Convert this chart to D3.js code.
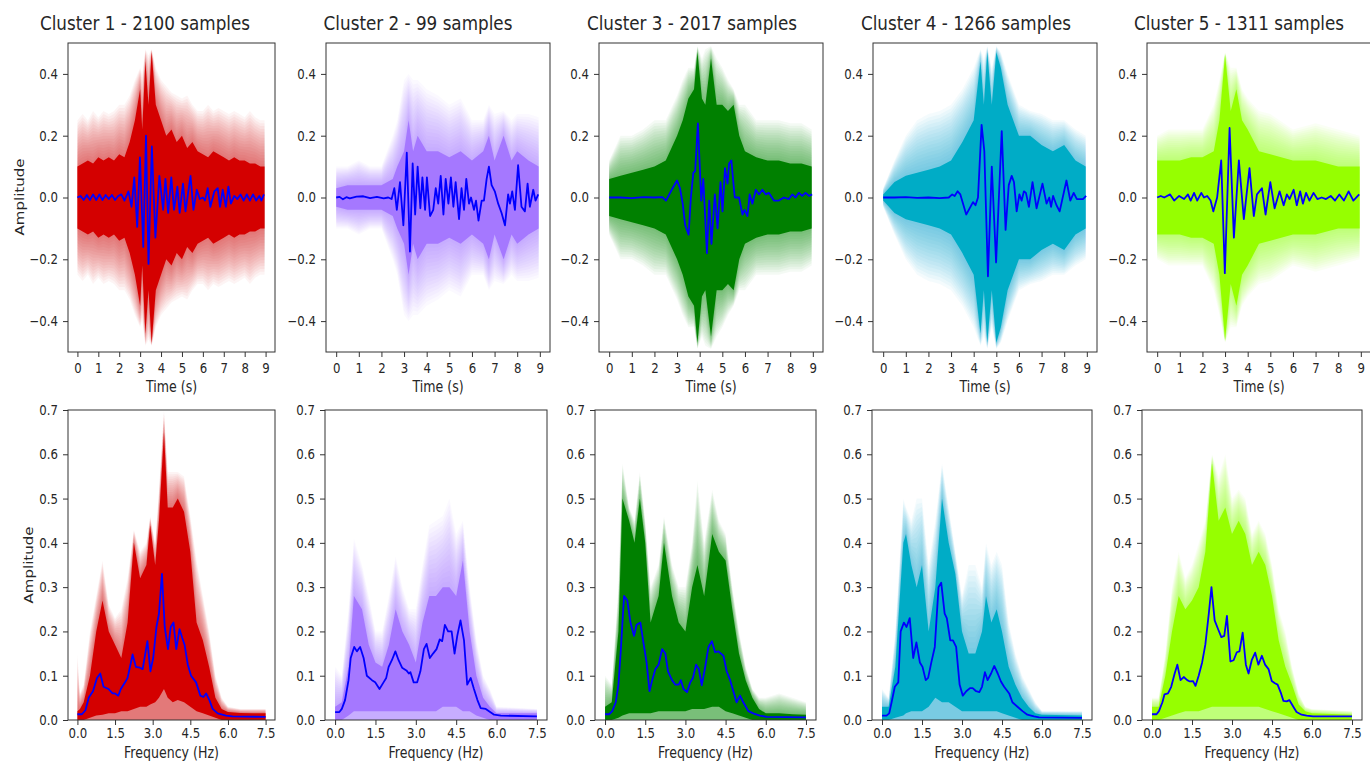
<!DOCTYPE html>
<html lang="en">
<head>
<meta charset="UTF-8">
<title>Clusters</title>
<script src="https://cdn.jsdelivr.net/npm/d3@7"></script>
<style>
  body { margin: 0; background: #fff; }
  svg text { font-family: "DejaVu Sans", sans-serif; fill: #262626; }
</style>
</head>
<body>
<svg width="1370" height="764"></svg>
<script>
// ---- data ----
const clusterIds = [1, 2, 3, 4, 5];
const sampleCounts = [2100, 99, 2017, 1266, 1311];

const timeTicks = [0, 1, 2, 3, 4, 5, 6, 7, 8, 9];
const freqTicks = [0, 1.5, 3, 4.5, 6, 7.5];
const ampTicksTop = [-0.4, -0.2, 0, 0.2, 0.4];
const ampTicksBottom = [0, 0.1, 0.2, 0.3, 0.4, 0.5, 0.6, 0.7];

// mean waveform, [time s, amplitude]
const c1TimeMean = [[0,0],[0.15,0.005],[0.3,-0.008],[0.45,0.008],[0.6,-0.008],[0.75,0.01],[0.9,-0.008],[1.05,0.01],[1.2,-0.008],[1.35,0.008],[1.5,-0.005],[1.65,0.008],[1.8,-0.008],[1.95,0.005],[2.1,0.01],[2.25,-0.01],[2.44,0.02],[2.59,-0.03],[2.72,0.065],[2.86,-0.095],[2.99,0.13],[3.15,-0.16],[3.28,0.2],[3.4,-0.215],[3.56,0.165],[3.73,-0.13],[3.92,0.07],[4.1,-0.04],[4.21,0.06],[4.34,-0.05],[4.49,0.065],[4.62,-0.04],[4.78,0.035],[4.89,-0.05],[5.05,0.045],[5.17,-0.045],[5.41,0.07],[5.55,-0.04],[5.71,0.025],[5.85,-0.005],[6.0,0],[6.1,-0.01],[6.23,0.03],[6.36,-0.03],[6.55,0.02],[6.71,0.03],[6.82,-0.03],[6.95,0.025],[7.1,-0.03],[7.22,0.035],[7.34,-0.02],[7.5,0.005],[7.65,-0.005],[7.8,0.01],[7.95,-0.01],[8.1,0.01],[8.25,-0.01],[8.4,0.01],[8.55,-0.01],[8.7,0.005],[8.8,-0.01],[8.92,0.01]];
const c2TimeMean = [[0,0],[0.15,0.002],[0.3,-0.006],[0.45,0.001],[0.6,-0.003],[0.9,0.003],[1.2,0.004],[1.5,-0.002],[1.8,0.002],[2.1,-0.003],[2.3,0],[2.45,-0.005],[2.57,0.03],[2.68,-0.04],[2.82,0.05],[2.97,-0.09],[3.12,0.145],[3.26,-0.175],[3.38,0.11],[3.49,-0.055],[3.6,0.1],[3.72,-0.035],[3.81,0.065],[3.93,-0.04],[4.01,0.065],[4.15,-0.06],[4.29,-0.04],[4.4,0.03],[4.51,-0.02],[4.62,0.07],[4.74,-0.055],[4.84,0.06],[4.96,-0.02],[5.07,0.065],[5.18,-0.03],[5.28,0.05],[5.43,-0.07],[5.54,0.03],[5.65,-0.04],[5.75,0.06],[5.87,-0.02],[5.96,0],[6.09,-0.04],[6.18,-0.01],[6.29,-0.075],[6.43,-0.01],[6.53,-0.01],[6.65,0.06],[6.75,0.1],[6.87,0.04],[7.01,0.02],[7.16,-0.02],[7.31,-0.05],[7.46,-0.09],[7.6,0.01],[7.68,-0.02],[7.78,0.02],[7.9,-0.04],[8.04,0.105],[8.19,-0.03],[8.34,-0.045],[8.46,0.045],[8.56,-0.03],[8.71,0.025],[8.81,-0.01],[8.93,0.01]];
const c3TimeMean = [[0,0],[0.5,0],[1,-0.002],[1.5,0.001],[2,0],[2.35,0.001],[2.51,-0.01],[2.8,0.03],[3.0,0.055],[3.13,0.03],[3.25,-0.02],[3.36,-0.09],[3.51,-0.12],[3.61,0],[3.72,0.08],[3.8,0.085],[3.92,0.24],[4.07,-0.01],[4.16,0.06],[4.32,-0.18],[4.42,-0.01],[4.52,-0.15],[4.67,0.01],[4.79,-0.1],[4.92,0.05],[5.01,-0.045],[5.12,0.095],[5.23,0.045],[5.3,0.11],[5.4,0.12],[5.55,0],[5.74,0],[5.89,-0.055],[5.99,-0.04],[6.11,-0.06],[6.21,0.01],[6.33,-0.02],[6.48,0.025],[6.62,0.01],[6.77,0.025],[6.92,0.01],[7.06,0.015],[7.28,-0.01],[7.5,-0.01],[7.72,0],[7.94,-0.005],[8.09,0.01],[8.24,0],[8.38,0.015],[8.53,0.005],[8.68,0.015],[8.83,0.005],[8.97,0.01]];
const c4TimeMean = [[0,0],[0.5,0],[1,0.001],[1.5,-0.001],[2,0],[2.5,-0.002],[2.9,0],[3.05,0.01],[3.16,0.005],[3.29,0.02],[3.41,0.01],[3.67,-0.055],[3.82,-0.035],[3.97,-0.015],[4.08,-0.025],[4.19,0],[4.35,0.235],[4.47,0.15],[4.63,-0.255],[4.8,0.1],[4.99,-0.21],[5.24,0.215],[5.41,-0.105],[5.55,0.04],[5.68,0.07],[5.78,0.05],[5.9,-0.045],[6.02,0.01],[6.12,-0.01],[6.22,0.02],[6.31,0.015],[6.44,-0.03],[6.6,0.05],[6.78,-0.035],[7.04,0.045],[7.22,-0.02],[7.34,0],[7.42,-0.03],[7.51,0.005],[7.66,-0.025],[7.8,-0.045],[8.1,0.055],[8.27,-0.01],[8.42,0.015],[8.56,-0.005],[8.83,-0.005],[8.97,0.005]];
const c5TimeMean = [[0,0],[0.16,0.005],[0.31,0],[0.57,0.01],[0.75,-0.01],[0.97,0.005],[1.19,-0.005],[1.36,0.01],[1.48,-0.01],[1.63,0.015],[1.77,-0.01],[1.95,0.015],[2.07,0],[2.21,0.005],[2.36,-0.01],[2.48,-0.045],[2.65,0],[2.83,0.12],[2.99,-0.245],[3.2,0.225],[3.39,-0.13],[3.61,0.12],[3.83,-0.07],[4.08,0.095],[4.27,-0.06],[4.41,0.01],[4.63,0.03],[4.79,-0.055],[5.0,0.05],[5.19,-0.035],[5.41,0.02],[5.59,-0.025],[5.73,0.01],[5.85,-0.005],[6.03,0.025],[6.17,-0.025],[6.32,0.02],[6.44,-0.02],[6.58,0.015],[6.73,-0.01],[6.91,0.015],[7.08,-0.005],[7.27,0],[7.46,-0.005],[7.67,0.005],[7.86,-0.01],[8.05,0.01],[8.25,-0.01],[8.46,0.02],[8.67,-0.01],[8.93,0.01]];

// spread of all waveforms, [time s, outer reach, dense reach] (about symmetric)
const c1TimeEnv = [[0,0.25,0.1],[0.25,0.27,0.11],[0.5,0.25,0.12],[0.75,0.28,0.11],[1.0,0.26,0.13],[1.25,0.28,0.12],[1.5,0.27,0.13],[1.75,0.28,0.12],[2.0,0.3,0.14],[2.25,0.3,0.13],[2.5,0.33,0.18],[2.75,0.38,0.25],[3.0,0.42,0.35],[3.1,0.4,0.22],[3.25,0.48,0.44],[3.4,0.46,0.3],[3.55,0.48,0.47],[3.75,0.42,0.3],[4.0,0.38,0.25],[4.25,0.36,0.2],[4.5,0.34,0.22],[4.75,0.33,0.18],[5.0,0.32,0.2],[5.25,0.33,0.16],[5.5,0.3,0.18],[5.75,0.28,0.15],[6.0,0.28,0.14],[6.25,0.3,0.13],[6.5,0.28,0.15],[6.75,0.29,0.14],[7.0,0.28,0.13],[7.25,0.27,0.12],[7.5,0.28,0.13],[7.75,0.27,0.12],[8.0,0.26,0.12],[8.25,0.28,0.11],[8.5,0.26,0.11],[8.75,0.25,0.1],[8.95,0.25,0.1]];
const c2TimeEnv = [[0,0.1,0.03],[0.5,0.1,0.04],[1,0.12,0.04],[1.5,0.1,0.04],[2,0.1,0.04],[2.5,0.2,0.06],[2.7,0.25,0.1],[3.0,0.38,0.15],[3.2,0.4,0.25],[3.4,0.38,0.15],[3.6,0.38,0.2],[4.0,0.35,0.15],[4.5,0.33,0.15],[5.0,0.3,0.13],[5.5,0.32,0.15],[6.0,0.25,0.12],[6.5,0.25,0.15],[6.75,0.3,0.2],[7.0,0.27,0.12],[7.4,0.28,0.2],[7.75,0.25,0.12],[8.0,0.27,0.15],[8.5,0.27,0.12],[8.95,0.26,0.1]];
const c3TimeEnv = [[0,0.12,0.06],[0.5,0.2,0.07],[1,0.2,0.08],[1.5,0.22,0.09],[2,0.25,0.1],[2.5,0.25,0.12],[3.0,0.33,0.2],[3.25,0.38,0.25],[3.5,0.42,0.32],[3.75,0.42,0.35],[3.9,0.49,0.47],[4.1,0.45,0.32],[4.25,0.48,0.3],[4.5,0.49,0.45],[4.75,0.45,0.3],[5.0,0.42,0.3],[5.25,0.38,0.28],[5.5,0.35,0.3],[5.75,0.3,0.2],[6.0,0.3,0.15],[6.5,0.25,0.13],[7.0,0.25,0.12],[7.5,0.25,0.12],[8.0,0.24,0.11],[8.5,0.24,0.11],[8.95,0.22,0.1]];
const c4TimeEnv = [[0,0.03,0.01],[0.5,0.12,0.05],[1,0.2,0.07],[1.5,0.25,0.08],[2,0.27,0.09],[2.5,0.28,0.1],[3,0.3,0.12],[3.5,0.35,0.18],[4,0.42,0.25],[4.3,0.48,0.44],[4.45,0.45,0.3],[4.6,0.49,0.47],[4.8,0.42,0.3],[5.0,0.49,0.47],[5.2,0.47,0.42],[5.5,0.4,0.3],[6,0.3,0.2],[6.5,0.28,0.2],[7,0.27,0.17],[7.5,0.25,0.15],[8,0.25,0.17],[8.5,0.22,0.12],[8.95,0.2,0.1]];
const c5TimeEnv = [[0,0.2,0.12],[0.5,0.22,0.12],[1,0.22,0.12],[1.5,0.22,0.13],[2,0.22,0.13],[2.5,0.3,0.15],[2.75,0.38,0.25],[3.0,0.47,0.46],[3.25,0.42,0.28],[3.5,0.42,0.35],[3.75,0.35,0.25],[4,0.32,0.22],[4.5,0.28,0.15],[5,0.27,0.14],[6,0.22,0.12],[7,0.24,0.12],[8,0.22,0.1],[8.95,0.2,0.1]];

// mean spectrum, [frequency Hz, amplitude]
const c1FreqMean = [[0,0.013],[0.18,0.013],[0.32,0.022],[0.45,0.05],[0.62,0.065],[0.78,0.095],[0.91,0.105],[1.04,0.075],[1.24,0.07],[1.4,0.06],[1.5,0.06],[1.63,0.055],[1.73,0.07],[1.9,0.085],[2.0,0.095],[2.2,0.148],[2.33,0.12],[2.49,0.118],[2.6,0.115],[2.79,0.178],[2.91,0.11],[3.02,0.14],[3.15,0.21],[3.25,0.24],[3.37,0.33],[3.48,0.21],[3.61,0.16],[3.72,0.21],[3.83,0.22],[3.94,0.16],[4.07,0.205],[4.18,0.185],[4.27,0.17],[4.4,0.125],[4.53,0.1],[4.73,0.085],[4.9,0.055],[5.02,0.052],[5.13,0.06],[5.26,0.045],[5.39,0.025],[5.59,0.015],[5.92,0.01],[6.18,0.008],[7.5,0.007]];
const c2FreqMean = [[0,0.018],[0.16,0.018],[0.25,0.025],[0.37,0.045],[0.5,0.09],[0.58,0.14],[0.71,0.165],[0.81,0.155],[0.93,0.165],[1.06,0.14],[1.18,0.1],[1.37,0.09],[1.49,0.085],[1.65,0.07],[1.8,0.085],[1.9,0.095],[1.99,0.12],[2.11,0.135],[2.24,0.155],[2.36,0.135],[2.49,0.118],[2.65,0.112],[2.74,0.105],[2.8,0.108],[2.92,0.085],[3.05,0.085],[3.17,0.11],[3.3,0.16],[3.4,0.172],[3.52,0.14],[3.64,0.15],[3.77,0.16],[3.89,0.182],[3.98,0.178],[4.08,0.215],[4.2,0.2],[4.33,0.2],[4.44,0.15],[4.54,0.19],[4.66,0.225],[4.79,0.18],[4.91,0.08],[5.04,0.095],[5.16,0.07],[5.29,0.045],[5.41,0.027],[5.6,0.025],[5.72,0.02],[5.91,0.012],[6.16,0.01],[7.5,0.008]];
const c3FreqMean = [[0,0.013],[0.15,0.013],[0.27,0.02],[0.4,0.04],[0.5,0.08],[0.58,0.15],[0.71,0.28],[0.83,0.27],[0.95,0.22],[1.08,0.19],[1.18,0.215],[1.32,0.22],[1.42,0.18],[1.55,0.13],[1.66,0.065],[1.76,0.09],[1.88,0.115],[2.0,0.125],[2.13,0.16],[2.25,0.15],[2.35,0.11],[2.5,0.09],[2.62,0.08],[2.75,0.08],[2.83,0.09],[2.93,0.07],[3.06,0.063],[3.18,0.085],[3.28,0.095],[3.4,0.125],[3.5,0.115],[3.61,0.078],[3.74,0.12],[3.86,0.165],[3.99,0.178],[4.11,0.153],[4.23,0.155],[4.42,0.145],[4.54,0.11],[4.67,0.09],[4.79,0.065],[4.91,0.04],[5.04,0.055],[5.16,0.04],[5.35,0.02],[5.53,0.015],[5.78,0.01],[6.03,0.007],[7.5,0.006]];
const c4FreqMean = [[0,0.01],[0.17,0.01],[0.27,0.015],[0.36,0.04],[0.48,0.075],[0.61,0.085],[0.7,0.2],[0.82,0.22],[0.92,0.21],[1.04,0.23],[1.17,0.14],[1.29,0.175],[1.42,0.13],[1.52,0.12],[1.64,0.09],[1.73,0.095],[1.85,0.13],[1.98,0.165],[2.12,0.3],[2.22,0.31],[2.35,0.24],[2.43,0.23],[2.56,0.18],[2.66,0.18],[2.78,0.165],[2.91,0.08],[3.03,0.055],[3.16,0.065],[3.3,0.072],[3.4,0.072],[3.53,0.065],[3.65,0.063],[3.75,0.075],[3.86,0.108],[3.96,0.09],[4.09,0.105],[4.21,0.122],[4.34,0.105],[4.46,0.087],[4.58,0.075],[4.77,0.06],[4.89,0.04],[5.08,0.03],[5.27,0.02],[5.45,0.012],[5.7,0.008],[5.89,0.006],[7.5,0.005]];
const c5FreqMean = [[0,0.013],[0.17,0.013],[0.26,0.02],[0.39,0.04],[0.47,0.058],[0.6,0.06],[0.72,0.075],[0.85,0.105],[0.95,0.125],[1.07,0.09],[1.19,0.097],[1.32,0.09],[1.42,0.087],[1.54,0.088],[1.63,0.077],[1.75,0.1],[1.88,0.13],[2.0,0.17],[2.13,0.24],[2.23,0.3],[2.35,0.225],[2.48,0.205],[2.6,0.187],[2.71,0.19],[2.81,0.235],[2.94,0.132],[3.06,0.135],[3.18,0.153],[3.28,0.155],[3.4,0.197],[3.52,0.125],[3.62,0.105],[3.74,0.135],[3.87,0.152],[3.99,0.125],[4.12,0.145],[4.24,0.125],[4.37,0.115],[4.49,0.088],[4.61,0.083],[4.71,0.08],[4.84,0.06],[4.93,0.043],[5.05,0.042],[5.15,0.045],[5.3,0.03],[5.42,0.018],[5.61,0.012],[5.8,0.01],[6.04,0.008],[7.5,0.008]];

// spread of all spectra, [frequency Hz, outer reach, dense reach, dense floor]
const c1FreqEnv = [[0,0.15,0.02,0],[0.1,0.06,0.025,0],[0.25,0.08,0.04,0],[0.5,0.2,0.1,0.005],[0.75,0.28,0.2,0.01],[1.0,0.36,0.27,0.012],[1.25,0.26,0.2,0.015],[1.5,0.23,0.17,0.015],[1.75,0.25,0.14,0.02],[2.0,0.32,0.22,0.02],[2.25,0.43,0.4,0.025],[2.5,0.38,0.32,0.03],[2.75,0.4,0.35,0.03],[2.9,0.46,0.44,0.035],[3.1,0.4,0.35,0.04],[3.25,0.52,0.45,0.05],[3.45,0.7,0.65,0.07],[3.6,0.56,0.48,0.05],[3.8,0.56,0.48,0.04],[4.0,0.56,0.5,0.045],[4.25,0.55,0.47,0.04],[4.5,0.46,0.38,0.03],[4.75,0.36,0.22,0.02],[5.0,0.28,0.18,0.015],[5.25,0.2,0.12,0.01],[5.5,0.1,0.05,0.005],[5.75,0.05,0.025,0],[6.0,0.03,0.018,0],[6.5,0.025,0.016,0],[7.0,0.025,0.015,0],[7.5,0.025,0.015,0]];
const c2FreqEnv = [[0,0.12,0.03,0],[0.25,0.1,0.04,0],[0.5,0.25,0.12,0.01],[0.7,0.41,0.28,0.02],[1.0,0.35,0.25,0.02],[1.25,0.28,0.17,0.02],[1.5,0.2,0.13,0.02],[1.75,0.2,0.12,0.02],[2.0,0.28,0.17,0.02],[2.25,0.37,0.25,0.02],[2.5,0.3,0.2,0.02],[2.75,0.25,0.17,0.02],[3.0,0.25,0.13,0.02],[3.25,0.35,0.22,0.02],[3.5,0.44,0.28,0.02],[3.75,0.45,0.28,0.02],[4.0,0.46,0.3,0.03],[4.25,0.5,0.3,0.03],[4.5,0.42,0.28,0.03],[4.75,0.45,0.36,0.02],[5.0,0.3,0.2,0.02],[5.25,0.18,0.1,0.01],[5.5,0.1,0.05,0.005],[5.75,0.07,0.03,0],[6.0,0.03,0.015,0],[7.5,0.025,0.015,0]];
const c3FreqEnv = [[0,0.1,0.03,0],[0.25,0.08,0.04,0],[0.5,0.3,0.2,0.005],[0.65,0.58,0.5,0.01],[0.9,0.48,0.45,0.015],[1.1,0.45,0.4,0.015],[1.3,0.56,0.5,0.015],[1.5,0.45,0.4,0.015],[1.7,0.3,0.22,0.015],[2.0,0.35,0.28,0.02],[2.2,0.46,0.4,0.02],[2.5,0.35,0.28,0.02],[2.75,0.3,0.22,0.02],[3.0,0.3,0.2,0.02],[3.25,0.4,0.3,0.025],[3.45,0.54,0.35,0.025],[3.7,0.4,0.28,0.025],[4.0,0.52,0.42,0.03],[4.25,0.45,0.38,0.03],[4.5,0.42,0.36,0.02],[4.75,0.3,0.25,0.015],[5.0,0.2,0.15,0.01],[5.25,0.12,0.09,0.005],[5.5,0.07,0.05,0],[5.75,0.05,0.025,0],[6.0,0.05,0.015,0],[6.5,0.06,0.015,0],[7.0,0.05,0.013,0],[7.5,0.04,0.012,0]];
const c4FreqEnv = [[0,0.07,0.03,0],[0.25,0.05,0.03,0],[0.5,0.2,0.12,0.005],[0.8,0.5,0.4,0.01],[0.9,0.48,0.42,0.015],[1.1,0.45,0.35,0.02],[1.3,0.5,0.3,0.02],[1.5,0.5,0.35,0.02],[1.75,0.35,0.2,0.03],[2.0,0.45,0.3,0.05],[2.25,0.58,0.5,0.04],[2.5,0.48,0.4,0.04],[2.75,0.38,0.33,0.03],[3.0,0.28,0.2,0.02],[3.25,0.35,0.15,0.02],[3.5,0.35,0.15,0.02],[3.75,0.3,0.2,0.02],[3.9,0.4,0.28,0.02],[4.1,0.35,0.22,0.02],[4.3,0.38,0.25,0.02],[4.5,0.35,0.2,0.015],[4.75,0.22,0.12,0.01],[5.0,0.15,0.08,0.005],[5.25,0.1,0.05,0],[5.5,0.07,0.03,0],[5.75,0.04,0.015,0],[6.0,0.02,0.012,0],[7.5,0.02,0.01,0]];
const c5FreqEnv = [[0,0.05,0.03,0],[0.25,0.05,0.03,0],[0.5,0.15,0.1,0.005],[0.75,0.3,0.2,0.01],[1.0,0.38,0.28,0.015],[1.25,0.32,0.25,0.02],[1.5,0.35,0.27,0.02],[1.75,0.4,0.3,0.02],[2.0,0.45,0.38,0.025],[2.25,0.6,0.58,0.03],[2.5,0.55,0.45,0.03],[2.75,0.6,0.48,0.03],[3.0,0.5,0.42,0.03],[3.25,0.52,0.45,0.03],[3.5,0.5,0.42,0.03],[3.75,0.42,0.35,0.03],[4.0,0.45,0.38,0.03],[4.25,0.42,0.35,0.025],[4.5,0.35,0.28,0.02],[4.75,0.25,0.18,0.015],[5.0,0.2,0.12,0.01],[5.25,0.12,0.08,0.005],[5.5,0.06,0.035,0],[5.75,0.03,0.02,0],[6.0,0.025,0.015,0],[7.5,0.02,0.012,0]];

const timeMeans = [c1TimeMean, c2TimeMean, c3TimeMean, c4TimeMean, c5TimeMean];
const timeEnvs = [c1TimeEnv, c2TimeEnv, c3TimeEnv, c4TimeEnv, c5TimeEnv];
const freqMeans = [c1FreqMean, c2FreqMean, c3FreqMean, c4FreqMean, c5FreqMean];
const freqEnvs = [c1FreqEnv, c2FreqEnv, c3FreqEnv, c4FreqEnv, c5FreqEnv];

// ---- style / layout ----
const colors = ['#d40000', '#8444ff', '#008000', '#00acc6', '#96ff00'];
const coreOpacity = [1, 0.5, 1, 1, 1];
const fadeOpacity = [0.045, 0.03, 0.045, 0.045, 0.045];
const fadeSteps = 16;
const squeeze = 0.84; // text in the picture is horizontally narrowed

const topRow = { top: 43, bottom: 352 };
const botRow = { top: 410, bottom: 720 };
const topLeft = [68, 326, 599, 873, 1147], topRight = [275, 550, 823, 1097, 1371];
const botLeft = [68, 325, 595, 872, 1142], botRight = [275, 547, 816, 1092, 1362];
const titleX = [145, 418, 692, 966, 1239];

const svg = d3.select('svg');
let clipCount = 0;

function drawPanel(o) {
    const g = svg.append('g');
    const x = d3.scaleLinear().domain(o.xDomain).range([o.left, o.right]);
    const y = d3.scaleLinear().domain(o.yDomain).range([o.bottom, o.top]);

    const clipId = 'clip' + (clipCount++);
    g.append('clipPath').attr('id', clipId)
        .append('rect')
        .attr('x', o.left).attr('y', o.top)
        .attr('width', o.right - o.left).attr('height', o.bottom - o.top);
    const plot = g.append('g').attr('clip-path', `url(#${clipId})`);

    // fading layers between the dense band and the outer reach
    for (let k = fadeSteps; k >= 1; k--) {
        const band = d => d[2] + (d[1] - d[2]) * k / fadeSteps;
        const area = d3.area()
            .x(d => x(d[0]))
            .y1(d => y(band(d)))
            .y0(d => o.symmetric ? y(-band(d)) : y(0));
        plot.append('path').datum(o.env)
            .attr('d', area)
            .attr('fill', o.color)
            .attr('fill-opacity', o.fade);
    }
    // dense band
    const core = d3.area()
        .x(d => x(d[0]))
        .y1(d => y(d[2]))
        .y0(d => o.symmetric ? y(-d[2]) : y(d[3]));
    plot.append('path').datum(o.env)
        .attr('d', core)
        .attr('fill', o.color)
        .attr('fill-opacity', o.coreOpacity);

    // mean curve
    const line = d3.line().x(d => x(d[0])).y(d => y(d[1]));
    plot.append('path').datum(o.mean)
        .attr('d', line)
        .attr('fill', 'none')
        .attr('stroke', '#0000ff')
        .attr('stroke-width', 1.8)
        .attr('stroke-linejoin', 'round');

    // axes
    const xAxis = g.append('g')
        .attr('transform', `translate(0,${o.bottom})`)
        .call(d3.axisBottom(x).tickValues(o.xTicks).tickFormat(o.xFormat)
            .tickSize(5).tickPadding(o.xPad));
    xAxis.select('.domain').remove();
    xAxis.selectAll('line').attr('stroke', '#333');
    xAxis.selectAll('text')
        .attr('font-size', 14)
        .attr('transform', `scale(${squeeze},1)`);

    const yAxis = g.append('g')
        .attr('transform', `translate(${o.left},0)`)
        .call(d3.axisLeft(y).tickValues(o.yTicks).tickFormat(d3.format('.1f')).tickSize(5));
    yAxis.select('.domain').remove();
    yAxis.selectAll('line').attr('stroke', '#333');
    yAxis.selectAll('text')
        .attr('font-size', 14)
        .attr('x', 0)
        .attr('transform', `translate(-10,0) scale(${squeeze},1)`);

    // frame
    g.append('rect')
        .attr('x', o.left).attr('y', o.top)
        .attr('width', o.right - o.left).attr('height', o.bottom - o.top)
        .attr('fill', 'none').attr('stroke', '#333').attr('stroke-width', 1);

    // x label
    g.append('text')
        .attr('transform', `translate(${(o.left + o.right) / 2},${o.bottom + o.labelGap}) scale(${squeeze},1)`)
        .attr('text-anchor', 'middle')
        .attr('font-size', 15)
        .text(o.xLabel);
}

clusterIds.forEach((id, i) => {
    drawPanel({
        left: topLeft[i], right: topRight[i], top: topRow.top, bottom: topRow.bottom,
        xDomain: [-0.45, 9.45], yDomain: [-0.5, 0.5],
        xTicks: timeTicks, xFormat: d3.format('d'), yTicks: ampTicksTop, xPad: 6,
        env: timeEnvs[i], mean: timeMeans[i], symmetric: true,
        color: colors[i], coreOpacity: coreOpacity[i], fade: fadeOpacity[i],
        xLabel: 'Time (s)', labelGap: 40
    });
    drawPanel({
        left: botLeft[i], right: botRight[i], top: botRow.top, bottom: botRow.bottom,
        xDomain: [-0.375, 7.875], yDomain: [0, 0.7],
        xTicks: freqTicks, xFormat: d3.format('.1f'), yTicks: ampTicksBottom, xPad: 3,
        env: freqEnvs[i], mean: freqMeans[i], symmetric: false,
        color: colors[i], coreOpacity: coreOpacity[i], fade: fadeOpacity[i],
        xLabel: 'Frequency (Hz)', labelGap: 38
    });
    svg.append('text')
        .attr('transform', `translate(${titleX[i]},30) scale(${squeeze},1)`)
        .attr('text-anchor', 'middle')
        .attr('font-size', 20)
        .attr('fill', '#000')
        .text(`Cluster ${id} - ${sampleCounts[i]} samples`);
});

// row y labels
[[24, 197], [33, 565]].forEach(([lx, ly]) => {
    svg.append('text')
        .attr('transform', `translate(${lx},${ly}) rotate(-90) scale(1,${squeeze})`)
        .attr('text-anchor', 'middle')
        .attr('font-size', 15)
        .text('Amplitude');
});
</script>
</body>
</html>
